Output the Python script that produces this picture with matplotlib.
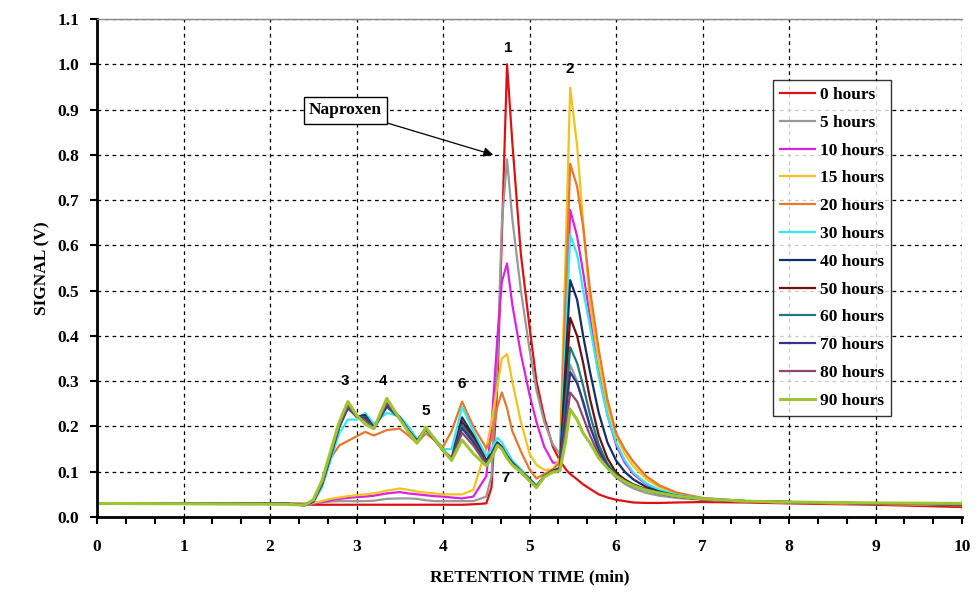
import matplotlib
matplotlib.use("Agg")
import matplotlib.pyplot as plt
from matplotlib.ticker import MultipleLocator, FormatStrFormatter

# retention time grid (min), shared by every trace
t = [0.0, 2.2, 2.4, 2.5, 2.6, 2.7, 2.8, 2.9, 3.0, 3.1,
     3.2, 3.35, 3.5, 3.6, 3.7, 3.8, 3.9, 4.0, 4.1, 4.22,
     4.35, 4.5, 4.56, 4.63, 4.68, 4.74, 4.8, 4.9, 5.0, 5.08,
     5.17, 5.27, 5.35, 5.42, 5.47, 5.55, 5.62, 5.7, 5.8, 5.9,
     6.0, 6.1, 6.2, 6.35, 6.5, 6.7, 7.0, 7.5, 8.0, 9.0,
     10.0]

h0 = [0.030, 0.030, 0.028, 0.027, 0.027, 0.027, 0.027, 0.027, 0.027, 0.027,
      0.027, 0.027, 0.027, 0.027, 0.027, 0.027, 0.027, 0.027, 0.027, 0.027,
      0.028, 0.030, 0.065, 0.300, 0.620, 1.000, 0.830, 0.580, 0.420, 0.300,
      0.220, 0.155, 0.125, 0.105, 0.095, 0.083, 0.072, 0.062, 0.050, 0.043,
      0.038, 0.035, 0.032, 0.031, 0.031, 0.032, 0.033, 0.032, 0.030, 0.027,
      0.022]
h5 = [0.030, 0.030, 0.029, 0.030, 0.032, 0.034, 0.035, 0.035, 0.035, 0.035,
      0.036, 0.040, 0.041, 0.041, 0.040, 0.037, 0.035, 0.035, 0.035, 0.035,
      0.035, 0.045, 0.090, 0.350, 0.650, 0.790, 0.660, 0.500, 0.370, 0.280,
      0.210, 0.160, 0.140, 0.230, 0.336, 0.300, 0.250, 0.200, 0.150, 0.112,
      0.088, 0.073, 0.063, 0.053, 0.047, 0.042, 0.038, 0.034, 0.032, 0.030,
      0.028]
h10 = [0.030, 0.030, 0.029, 0.030, 0.033, 0.037, 0.040, 0.042, 0.044, 0.045,
       0.047, 0.052, 0.055, 0.052, 0.050, 0.048, 0.046, 0.045, 0.043, 0.041,
       0.045, 0.090, 0.200, 0.400, 0.520, 0.560, 0.470, 0.360, 0.270, 0.210,
       0.155, 0.120, 0.120, 0.420, 0.678, 0.620, 0.540, 0.440, 0.320, 0.225,
       0.160, 0.120, 0.095, 0.072, 0.058, 0.048, 0.041, 0.035, 0.033, 0.030,
       0.028]
h15 = [0.030, 0.030, 0.029, 0.031, 0.035, 0.040, 0.043, 0.046, 0.048, 0.050,
       0.052, 0.058, 0.063, 0.060, 0.056, 0.054, 0.052, 0.050, 0.050, 0.050,
       0.060, 0.150, 0.210, 0.290, 0.350, 0.360, 0.300, 0.210, 0.140, 0.115,
       0.104, 0.105, 0.130, 0.600, 0.948, 0.820, 0.650, 0.470, 0.340, 0.245,
       0.180, 0.140, 0.112, 0.084, 0.066, 0.052, 0.041, 0.035, 0.032, 0.029,
       0.026]
h20 = [0.030, 0.030, 0.028, 0.035, 0.070, 0.130, 0.158, 0.168, 0.178, 0.188,
       0.180, 0.192, 0.195, 0.180, 0.163, 0.185, 0.170, 0.155, 0.190, 0.255,
       0.200, 0.152, 0.170, 0.245, 0.275, 0.240, 0.190, 0.145, 0.105, 0.085,
       0.095, 0.105, 0.120, 0.500, 0.780, 0.730, 0.640, 0.500, 0.370, 0.260,
       0.185, 0.150, 0.122, 0.090, 0.070, 0.054, 0.042, 0.035, 0.032, 0.029,
       0.026]
h30 = [0.030, 0.030, 0.026, 0.032, 0.065, 0.125, 0.185, 0.215, 0.215, 0.230,
       0.205, 0.230, 0.222, 0.200, 0.172, 0.190, 0.175, 0.150, 0.150, 0.243,
       0.190, 0.135, 0.150, 0.175, 0.165, 0.145, 0.125, 0.105, 0.085, 0.070,
       0.090, 0.100, 0.110, 0.400, 0.623, 0.580, 0.500, 0.420, 0.310, 0.225,
       0.165, 0.125, 0.098, 0.074, 0.060, 0.049, 0.041, 0.035, 0.033, 0.030,
       0.027]
h40 = [0.030, 0.029, 0.026, 0.034, 0.072, 0.135, 0.200, 0.245, 0.222, 0.225,
       0.198, 0.250, 0.220, 0.192, 0.168, 0.196, 0.172, 0.148, 0.130, 0.220,
       0.180, 0.125, 0.140, 0.165, 0.155, 0.135, 0.120, 0.102, 0.084, 0.068,
       0.090, 0.102, 0.108, 0.350, 0.523, 0.480, 0.400, 0.320, 0.230, 0.165,
       0.125, 0.100, 0.083, 0.066, 0.056, 0.047, 0.040, 0.035, 0.033, 0.030,
       0.028]
h50 = [0.030, 0.029, 0.026, 0.034, 0.072, 0.135, 0.200, 0.243, 0.222, 0.222,
       0.196, 0.245, 0.218, 0.190, 0.166, 0.195, 0.171, 0.147, 0.128, 0.210,
       0.175, 0.122, 0.138, 0.163, 0.153, 0.133, 0.118, 0.100, 0.082, 0.067,
       0.089, 0.101, 0.107, 0.300, 0.440, 0.400, 0.340, 0.260, 0.180, 0.130,
       0.098, 0.083, 0.072, 0.061, 0.053, 0.045, 0.039, 0.035, 0.033, 0.030,
       0.028]
h60 = [0.030, 0.029, 0.026, 0.034, 0.072, 0.135, 0.198, 0.240, 0.222, 0.220,
       0.196, 0.243, 0.218, 0.190, 0.166, 0.195, 0.171, 0.147, 0.127, 0.203,
       0.170, 0.120, 0.136, 0.162, 0.152, 0.132, 0.117, 0.100, 0.081, 0.066,
       0.089, 0.100, 0.106, 0.260, 0.375, 0.340, 0.290, 0.225, 0.160, 0.118,
       0.093, 0.080, 0.070, 0.060, 0.052, 0.045, 0.039, 0.035, 0.033, 0.030,
       0.028]
h70 = [0.030, 0.029, 0.026, 0.035, 0.074, 0.138, 0.200, 0.242, 0.222, 0.218,
       0.195, 0.247, 0.218, 0.190, 0.166, 0.196, 0.171, 0.147, 0.126, 0.196,
       0.165, 0.118, 0.134, 0.161, 0.151, 0.131, 0.116, 0.099, 0.080, 0.066,
       0.089, 0.100, 0.105, 0.230, 0.320, 0.295, 0.255, 0.200, 0.148, 0.112,
       0.090, 0.078, 0.069, 0.059, 0.052, 0.045, 0.039, 0.035, 0.033, 0.030,
       0.028]
h80 = [0.030, 0.029, 0.026, 0.035, 0.075, 0.140, 0.203, 0.246, 0.222, 0.214,
       0.195, 0.252, 0.218, 0.190, 0.165, 0.197, 0.172, 0.147, 0.125, 0.186,
       0.158, 0.116, 0.132, 0.160, 0.150, 0.130, 0.115, 0.099, 0.080, 0.065,
       0.089, 0.100, 0.104, 0.200, 0.275, 0.255, 0.220, 0.180, 0.138, 0.108,
       0.088, 0.077, 0.068, 0.059, 0.052, 0.045, 0.039, 0.035, 0.033, 0.030,
       0.028]
h90 = [0.030, 0.028, 0.026, 0.038, 0.080, 0.145, 0.210, 0.255, 0.225, 0.205,
       0.195, 0.262, 0.216, 0.188, 0.163, 0.198, 0.173, 0.148, 0.125, 0.170,
       0.140, 0.113, 0.130, 0.158, 0.150, 0.130, 0.115, 0.100, 0.080, 0.065,
       0.088, 0.099, 0.102, 0.170, 0.238, 0.215, 0.185, 0.163, 0.130, 0.108,
       0.090, 0.078, 0.069, 0.059, 0.053, 0.046, 0.040, 0.035, 0.033, 0.031,
       0.030]

labels = ["0 hours", "5 hours", "10 hours", "15 hours", "20 hours", "30 hours",
          "40 hours", "50 hours", "60 hours", "70 hours", "80 hours", "90 hours"]
series = [h0, h5, h10, h15, h20, h30, h40, h50, h60, h70, h80, h90]
colors = ["#DD1111", "#999999", "#DD22DD", "#F2C21E", "#E5782A", "#33E8F0",
          "#123060", "#701010", "#1E7B7B", "#34348A", "#8B4A6B", "#9DC431"]

# peak numbers: label, x, y
peak_txt = ["1", "2", "3", "4", "5", "6", "7"]
peak_x = [4.75, 5.46, 2.87, 3.31, 3.80, 4.21, 4.72]
peak_y = [1.035, 0.99, 0.30, 0.30, 0.235, 0.293, 0.087]

serif = "Liberation Serif"

fig = plt.figure(figsize=(9.77, 6.01), dpi=100)
ax = fig.add_axes([0.0993, 0.1398, 0.8854, 0.8286])

for i, s in enumerate(series):
    lw = 2.2 if i == len(series) - 1 else 1.6
    ax.plot(t, s, color=colors[i], lw=lw, label=labels[i], solid_joinstyle="round")

ax.set_xlim(0, 10)
ax.set_ylim(0, 1.1)
ax.xaxis.set_major_locator(MultipleLocator(1))
ax.xaxis.set_minor_locator(MultipleLocator(1 / 3))
ax.yaxis.set_major_locator(MultipleLocator(0.1))
ax.yaxis.set_major_formatter(FormatStrFormatter("%.1f"))
ax.grid(True, which="major", color="black", linestyle=(0, (3, 3)), lw=0.9)
ax.set_axisbelow(True)

ax.tick_params(axis="both", which="major", direction="out", length=5, width=1.5,
               labelsize=12.5)
ax.tick_params(axis="x", which="major", pad=11)
ax.tick_params(axis="y", which="major", pad=8)
ax.tick_params(axis="x", which="minor", direction="out", length=5, width=1.5)
for lab in ax.get_xticklabels() + ax.get_yticklabels():
    lab.set_fontfamily(serif)
    lab.set_fontweight("bold")

ax.spines["left"].set_linewidth(2)
ax.spines["bottom"].set_linewidth(2)
ax.spines["top"].set_color("#888888")
ax.spines["top"].set_linewidth(1)
ax.spines["right"].set_visible(False)

ax.set_xlabel("RETENTION TIME (min)", fontfamily=serif, fontweight="bold",
              fontsize=12.5, labelpad=10)
ax.set_ylabel("SIGNAL (V)", fontfamily=serif, fontweight="bold",
              fontsize=12.5, labelpad=5)

for k in range(len(peak_txt)):
    ax.text(peak_x[k], peak_y[k], peak_txt[k], ha="center", va="center",
            fontfamily="Liberation Sans", fontweight="bold", fontsize=11)

ax.annotate("Naproxen", xy=(4.58, 0.80), xytext=(2.87, 0.898),
            ha="center", va="center", fontfamily=serif, fontweight="bold", fontsize=12.5,
            bbox=dict(boxstyle="square,pad=0.3", fc="white", ec="black", lw=1),
            arrowprops=dict(arrowstyle="-|>", color="black", lw=0.9,
                            mutation_scale=14, shrinkA=0, shrinkB=0))

leg = ax.legend(loc="upper left", bbox_to_anchor=(0.7815, 0.8775),
                prop={"family": serif, "weight": "bold", "size": 12.5},
                frameon=True, fancybox=False, edgecolor="black",
                handlelength=2.0, handletextpad=0.3, labelspacing=0.67,
                borderpad=0.4, borderaxespad=0)
leg.get_frame().set_linewidth(1)

fig.savefig("out.png", dpi=100)
